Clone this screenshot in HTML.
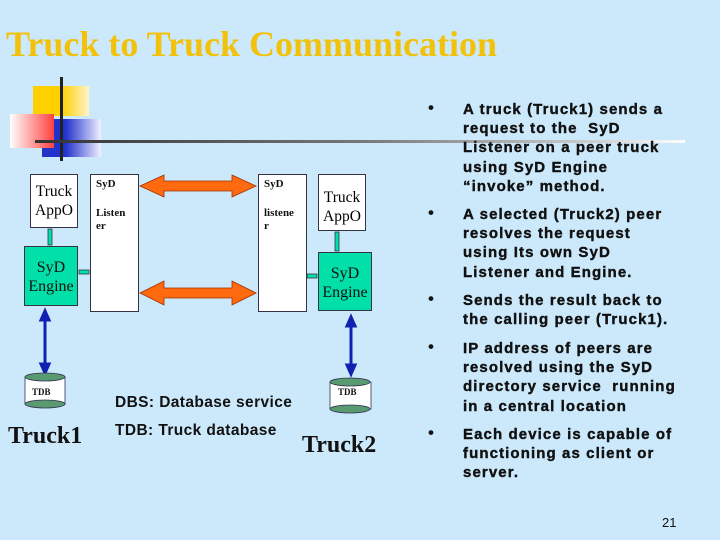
<!DOCTYPE html>
<html><head><style>
body{margin:0;width:720px;height:540px;background:#cce9fb;position:relative;overflow:hidden;font-family:"Liberation Serif",serif}
.a{position:absolute}
.box{position:absolute;background:#fff;border:1px solid #334;box-sizing:border-box}
.eng{position:absolute;background:#00e0a8;border:1px solid #334;box-sizing:border-box;text-align:center;font-size:15px;line-height:19px;color:#111}
.bl{position:absolute;left:463px;font-family:"Liberation Sans",sans-serif;font-weight:bold;font-size:15px;letter-spacing:1.1px;line-height:19.2px;color:#111;white-space:nowrap;-webkit-text-stroke:0.4px #111}
.dot{position:absolute;left:428px;font-family:"Liberation Sans",sans-serif;font-size:17px;font-weight:bold;color:#111}
.sm{font-family:"Liberation Serif",serif;font-size:11px;font-weight:bold;position:absolute;color:#111}
</style></head><body>
<div class="a" style="left:6px;top:24px;font-size:36px;font-weight:bold;color:#f2c10c;white-space:nowrap;line-height:40px">Truck to Truck Communication</div>
<div class="a" style="left:33px;top:86px;width:56px;height:30px;background:linear-gradient(90deg,#ffd000,#ffd000 50%,#fff3c8)"></div>
<div class="a" style="left:42px;top:119px;width:59px;height:38px;background:linear-gradient(90deg,#2233cc,#2233cc 40%,#f0f0ff)"></div>
<div class="a" style="left:10px;top:114px;width:44px;height:34px;background:linear-gradient(90deg,#fff,#ff4040)"></div>
<div class="a" style="left:60px;top:77px;width:3px;height:84px;background:#222"></div>
<div class="a" style="left:35px;top:140px;width:650px;height:3px;background:linear-gradient(90deg,#333,#777 50%,#ccc 85%,#fff)"></div>

<div class="box" style="left:30px;top:174px;width:48px;height:54px;text-align:center;font-size:15.5px;line-height:19px;padding-top:7px">Truck AppO</div>
<div class="box" style="left:318px;top:174px;width:48px;height:57px;text-align:center;font-size:15.5px;line-height:19px;padding-top:13px">Truck AppO</div>
<div class="box" style="left:90px;top:174px;width:49px;height:138px"></div>
<div class="box" style="left:258px;top:174px;width:49px;height:138px"></div>
<div class="sm" style="left:96px;top:178px">SyD</div>
<div class="sm" style="left:96px;top:207px;line-height:13px">Listen<br>er</div>
<div class="sm" style="left:264px;top:178px">SyD</div>
<div class="sm" style="left:264px;top:207px;line-height:13px">listene<br>r</div>
<div class="eng" style="left:24px;top:246px;width:54px;height:60px;padding-top:11px;font-size:16px">SyD Engine</div>
<div class="eng" style="left:318px;top:252px;width:54px;height:59px;padding-top:11px;font-size:16px">SyD Engine</div>

<svg class="a" style="left:0;top:0" width="720" height="540">
<g fill="#ff6a10" stroke="#a03000" stroke-width="0.8">
<polygon points="140,186 164,175 164,181 232,181 232,175 256,186 232,197 232,191 164,191 164,197"/>
<polygon points="140,293 164,281 164,288 232,288 232,281 256,293 232,305 232,298 164,298 164,305"/>
</g>
<g fill="#00e0a8" stroke="#334" stroke-width="0.8">
<rect x="48" y="229" width="4" height="16"/><rect x="335" y="232" width="4" height="19"/>
<rect x="79" y="270" width="10" height="4"/><rect x="307" y="274" width="10" height="4"/>
</g>
<g stroke="#1020b0" stroke-width="3" fill="#1020b0">
<line x1="45" y1="318" x2="45" y2="366"/><polygon points="41,320 45,311 49,320"/><polygon points="41,364 45,373 49,364"/>
<line x1="351" y1="324" x2="351" y2="367"/><polygon points="347,326 351,317 355,326"/><polygon points="347,365 351,374 355,365"/>
</g>
<g stroke="#335" stroke-width="0.8">
<rect x="25" y="377" width="40" height="27" fill="#fff"/><ellipse cx="45" cy="377" rx="20" ry="4" fill="#5a9a70"/><ellipse cx="45" cy="404" rx="20" ry="4" fill="#5a9a70"/>
<rect x="330" y="382" width="41" height="27" fill="#fff"/><ellipse cx="350" cy="382" rx="20" ry="4" fill="#5a9a70"/><ellipse cx="350" cy="409" rx="20" ry="4" fill="#5a9a70"/>
</g>
</svg>
<div class="sm" style="left:32px;top:387px;font-size:9px">TDB</div>
<div class="sm" style="left:338px;top:387px;font-size:9px">TDB</div>
<div class="a" style="left:8px;top:423px;font-size:24px;font-weight:bold;color:#111">Truck1</div>
<div class="a" style="left:302px;top:432px;font-size:24px;font-weight:bold;color:#111">Truck2</div>
<div class="a" style="left:115px;top:394px;font-family:'Liberation Sans',sans-serif;font-size:15.5px;letter-spacing:0.4px;font-weight:bold;color:#111;white-space:nowrap">DBS: Database service</div>
<div class="a" style="left:115px;top:422px;font-family:'Liberation Sans',sans-serif;font-size:15.5px;letter-spacing:0.4px;font-weight:bold;color:#111;white-space:nowrap">TDB: Truck database</div>

<div class="dot" style="top:98px">•</div>
<div class="bl" style="top:100px">A truck (Truck1) sends a<br>request to the &nbsp;SyD<br>Listener on a peer truck<br>using SyD Engine<br>“invoke” method.</div>
<div class="dot" style="top:203px">•</div>
<div class="bl" style="top:205px">A selected (Truck2) peer<br>resolves the request<br>using Its own SyD<br>Listener and Engine.</div>
<div class="dot" style="top:289px">•</div>
<div class="bl" style="top:291px">Sends the result back to<br>the calling peer (Truck1).</div>
<div class="dot" style="top:337px">•</div>
<div class="bl" style="top:339px">IP address of peers are<br>resolved using the SyD<br>directory service &nbsp;running<br>in a central location</div>
<div class="dot" style="top:423px">•</div>
<div class="bl" style="top:425px">Each device is capable of<br>functioning as client or<br>server.</div>
<div class="a" style="left:662px;top:515px;font-family:'Liberation Sans',sans-serif;font-size:13px;color:#111">21</div>
</body></html>
